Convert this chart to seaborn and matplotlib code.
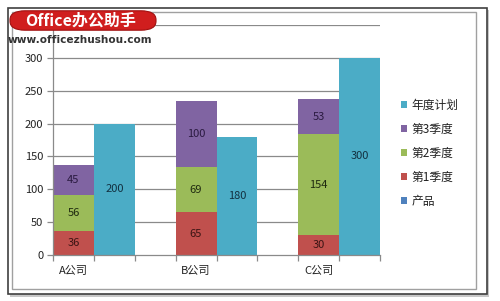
import matplotlib
matplotlib.use("Agg")
import matplotlib.pyplot as plt
from matplotlib.patches import Rectangle, FancyBboxPatch, Patch
import seaborn as sns
import pandas as pd

companies = ["A公司", "B公司", "C公司"]
q1 = [36, 65, 30]
q2 = [56, 69, 154]
q3 = [45, 100, 53]
plan = [200, 180, 300]
product = [0, 0, 0]
y_ticks = [0, 50, 100, 150, 200, 250, 300]

c_q1, c_q2, c_q3, c_plan, c_prod = "#C0504D", "#9BBB59", "#8064A2", "#4BACC6", "#4F81BD"

sns.set_theme(style="white")
plt.rcParams["font.family"] = ["Noto Sans CJK SC", "DejaVu Sans"]

slots = ["s0", "s1", "s2", "s3", "s4", "s5", "s6", "s7"]
stack_slots = ["s0", "s3", "s6"]
plan_slots = ["s1", "s4", "s7"]

t1 = q1
t2 = [a + b for a, b in zip(q1, q2)]
t3 = [a + b + c for a, b, c in zip(q1, q2, q3)]
df_stack = pd.DataFrame({"slot": stack_slots, "t1": t1, "t2": t2, "t3": t3})
df_plan = pd.DataFrame({"slot": plan_slots, "plan": plan})

fig = plt.figure(figsize=(5.0, 3.01), dpi=100)
fig.patch.set_facecolor("white")

# frames
fig.patches.append(Rectangle((10 / 500, 1 - 297 / 301), 479 / 500, 287 / 301, transform=fig.transFigure,
                             facecolor="#c8c8c8", edgecolor="none", zorder=0))
fig.patches.append(Rectangle((8 / 500, 1 - 294 / 301), 479 / 500, 286 / 301, transform=fig.transFigure,
                             facecolor="white", edgecolor="#404040", lw=1.2, zorder=0.5))
fig.patches.append(Rectangle((12 / 500, 1 - 289 / 301), 464 / 500, 277 / 301, transform=fig.transFigure,
                             facecolor="none", edgecolor="#a0a0a0", lw=1.0, zorder=0.6))

rect = [53 / 500, 1 - 255 / 301, 327 / 500, 230 / 301]

# background axes holding only the gridlines
ax_bg = fig.add_axes(rect)
ax_bg.set_zorder(1)
ax_bg.set_ylim(0, 350)
ax_bg.set_xlim(0, 1)
for yv in [50, 100, 150, 200, 250, 300, 350]:
    ax_bg.axhline(yv, color="#8a8a8a", lw=0.9)
ax_bg.axis("off")

ax = fig.add_axes(rect)
ax.set_zorder(2)
ax.patch.set_visible(False)

kw = dict(order=slots, width=1.0, dodge=False, saturation=1, ax=ax, linewidth=0)
sns.barplot(data=df_stack, x="slot", y="t3", color=c_q3, **kw)
sns.barplot(data=df_stack, x="slot", y="t2", color=c_q2, **kw)
sns.barplot(data=df_stack, x="slot", y="t1", color=c_q1, **kw)
sns.barplot(data=df_plan, x="slot", y="plan", color=c_plan, **kw)
for p in ax.patches:
    p.set_zorder(3)
    p.set_alpha(1)

ax.grid(False)
ax.set_ylim(0, 350)
ax.set_xlim(-0.5, 7.5)
ax.set_yticks([0, 50, 100, 150, 200, 250, 300, 350])
ax.set_yticklabels([str(v) for v in y_ticks] + [""], fontsize=8, color="#222222")
ax.set_xticks([i - 0.5 for i in range(9)])
ax.set_xticklabels([])
ax.set_xticks([0, 3, 6], minor=True)
ax.set_xticklabels(companies, minor=True, fontsize=8, color="#222222")
ax.tick_params(axis="x", which="major", length=4, color="#8a8a8a", width=0.9, direction="out", bottom=True)
ax.tick_params(axis="x", which="minor", length=0, pad=8)
ax.tick_params(axis="y", length=4, color="#8a8a8a", width=0.9, direction="out", left=True, pad=3)
ax.set_xlabel("")
ax.set_ylabel("")
for s in ["top", "right"]:
    ax.spines[s].set_visible(False)
for s in ["left", "bottom"]:
    ax.spines[s].set_color("#8a8a8a")
    ax.spines[s].set_linewidth(0.9)
    ax.spines[s].set_zorder(4)

# data labels
pos_stack = [0, 3, 6]
pos_plan = [1, 4, 7]
fs = 8
for i, p in enumerate(pos_stack):
    ax.text(p, q1[i] / 2, str(q1[i]), ha="center", va="center", fontsize=fs, color="#3a1414", zorder=5)
    ax.text(p, q1[i] + q2[i] / 2, str(q2[i]), ha="center", va="center", fontsize=fs, color="#1f2a10", zorder=5)
    ax.text(p, q1[i] + q2[i] + q3[i] / 2, str(q3[i]), ha="center", va="center", fontsize=fs, color="#2a1a40", zorder=5)
for i, p in enumerate(pos_plan):
    ax.text(p, plan[i] / 2, str(plan[i]), ha="center", va="center", fontsize=fs, color="#123040", zorder=5)

# legend
handles = [Patch(facecolor=c, edgecolor="none") for c in [c_plan, c_q3, c_q2, c_q1, c_prod]]
labels = ["年度计划", "第3季度", "第2季度", "第1季度", "产品"]
leg = fig.legend(handles, labels, loc="upper left", bbox_to_anchor=(390 / 500, 1 - 88 / 301),
                 frameon=False, fontsize=8.5, handlelength=0.55, handleheight=0.55, handletextpad=0.35,
                 labelspacing=0.93, labelcolor="#222222")
leg.set_zorder(3)

# watermark
wm = FancyBboxPatch((12 / 500, 1 - 29 / 301), 142 / 500, 17 / 301,
                    boxstyle="round,pad=0.004,rounding_size=0.03",
                    transform=fig.transFigure, facecolor="#d01e1e", edgecolor="#a01010",
                    lw=0.8, zorder=10)
fig.patches.append(wm)
fig.text(81 / 500, 1 - 20.5 / 301, "Office办公助手", ha="center", va="center", fontsize=11.5,
         fontweight="bold", color="white", zorder=11)
fig.text(8 / 500, 1 - 40 / 301, "www.officezhushou.com", ha="left", va="center", fontsize=7.6,
         fontweight="bold", color="#333333", family=["DejaVu Sans"], zorder=11)

fig.savefig("out.png", dpi=100, facecolor="white")
